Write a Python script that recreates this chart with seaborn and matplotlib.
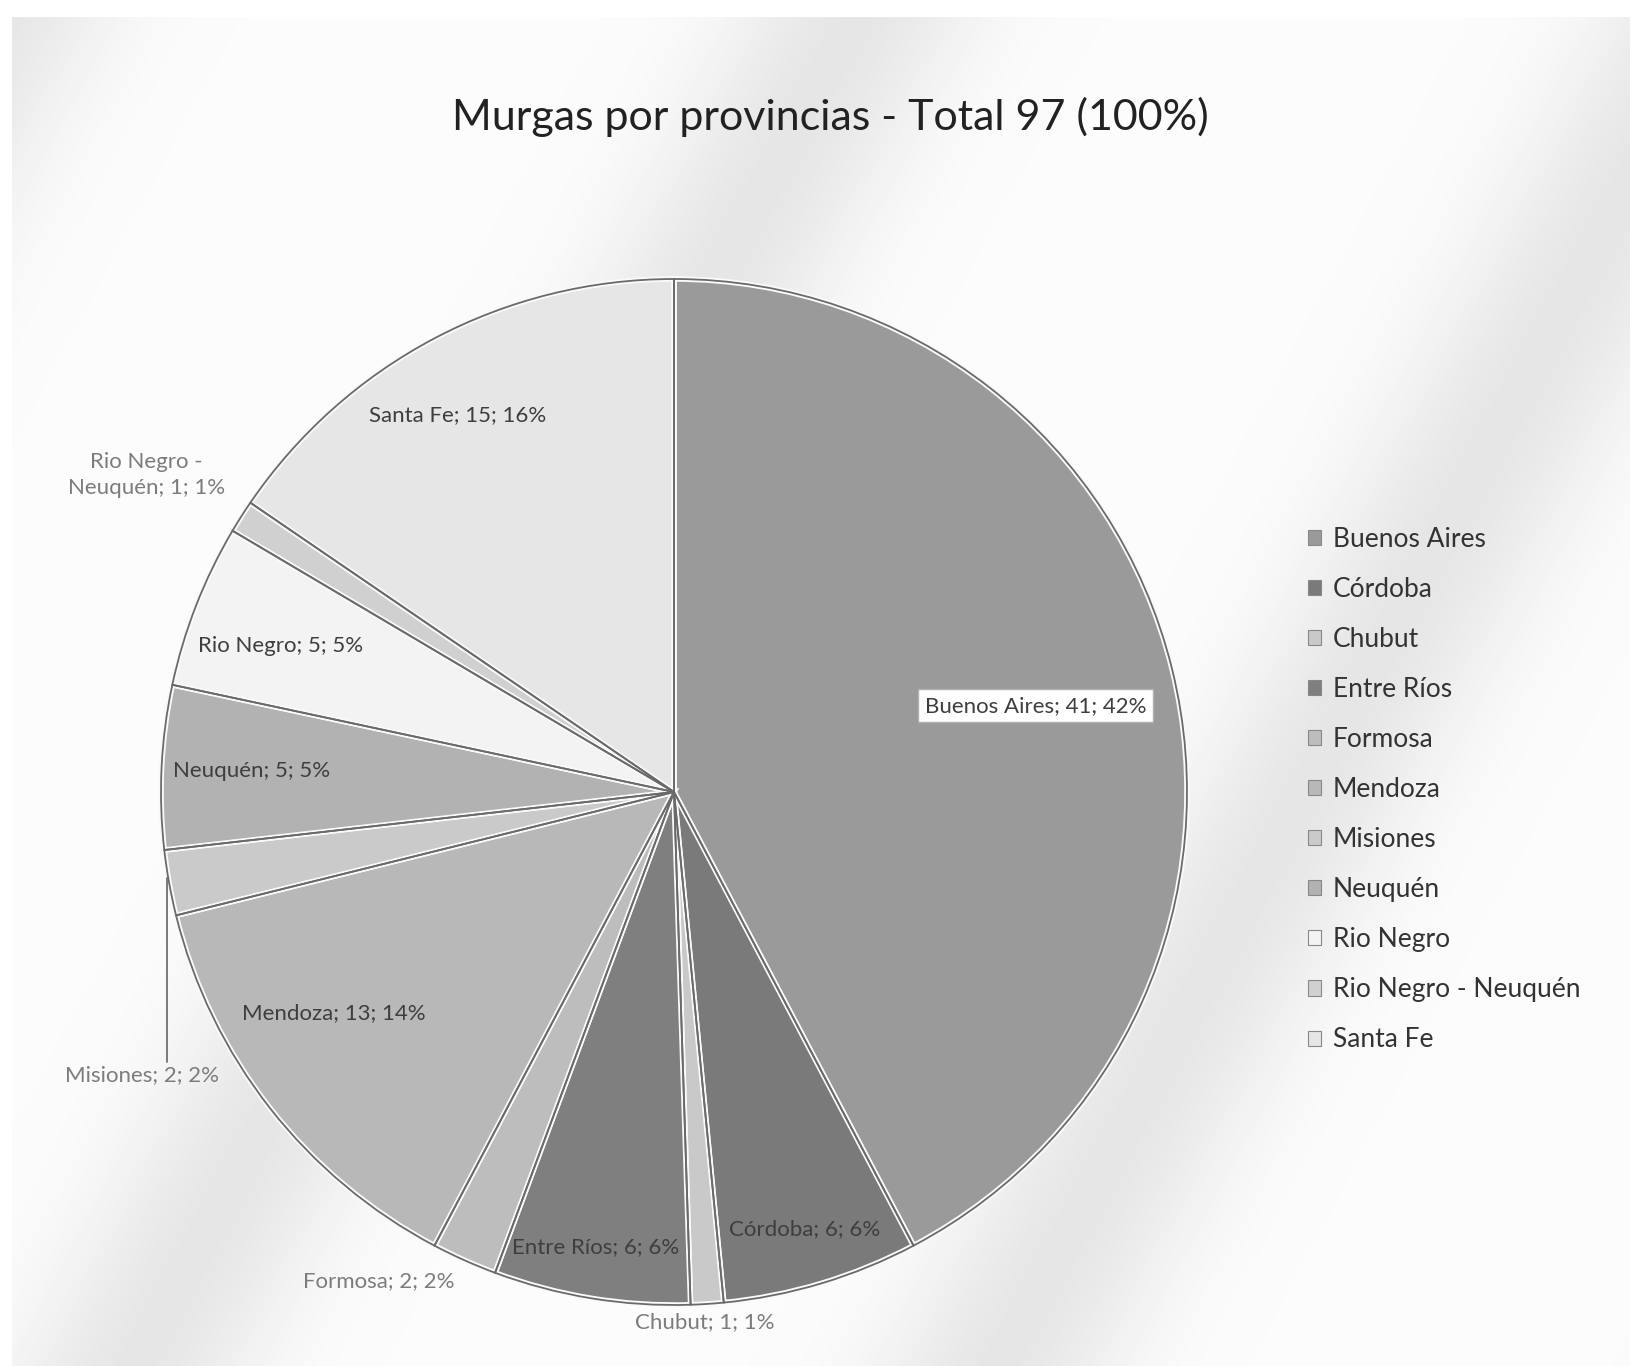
import numpy as np
import matplotlib
matplotlib.use("Agg")
import matplotlib.pyplot as plt
import seaborn as sns

# datos
provincias = ["Buenos Aires", "Córdoba", "Chubut", "Entre Ríos", "Formosa",
              "Mendoza", "Misiones", "Neuquén", "Rio Negro",
              "Rio Negro - Neuquén", "Santa Fe"]
murgas = [41, 6, 1, 6, 2, 13, 2, 5, 5, 1, 15]
porcentajes = [42, 6, 1, 6, 2, 14, 2, 5, 5, 1, 16]
etiquetas = ["Buenos Aires; 41; 42%", "Córdoba; 6; 6%", "Chubut; 1; 1%",
             "Entre Ríos; 6; 6%", "Formosa; 2; 2%", "Mendoza; 13; 14%",
             "Misiones; 2; 2%", "Neuquén; 5; 5%", "Rio Negro; 5; 5%",
             "Rio Negro -\nNeuquén; 1; 1%", "Santa Fe; 15; 16%"]
grises = ["#9a9a9a", "#7a7a7a", "#c9c9c9", "#7f7f7f", "#bdbdbd",
          "#b8b8b8", "#cacaca", "#b2b2b2", "#f3f3f3", "#d0d0d0", "#e6e6e6"]

sns.set_style("white")
plt.rcParams['font.family'] = ['Lato', 'DejaVu Sans']

fig = plt.figure(figsize=(16.3, 13.66), dpi=100)
W, H = 1630, 1366

# fondo con franjas diagonales suaves
bg = fig.add_axes([0, 0, 1, 1], zorder=-10)
yy, xx = np.mgrid[0:H, 0:W]
u = xx * 0.88 + yy * 0.47
band = 0.5 + 0.5 * np.cos(2 * np.pi * u / 760.0)
img = 0.985 - 0.085 * band ** 5
img[:17, :] = 1.0
img[:, :12] = 1.0
bg.imshow(img, cmap="gray", vmin=0, vmax=1, aspect="auto", interpolation="bilinear")
bg.axis("off")

# pastel
cx, cy, R = 674, 792, 513
ax = fig.add_axes([(cx - R) / W, (H - cy - R) / H, 2 * R / W, 2 * R / H])
wedges, _ = ax.pie(murgas, colors=grises, startangle=90, counterclock=False,
                   wedgeprops=dict(edgecolor="#fafafa", linewidth=4))
ax.pie(murgas, colors=["none"] * len(murgas), startangle=90, counterclock=False,
       wedgeprops=dict(edgecolor="#6a6a6a", linewidth=1.3, facecolor="none"))
ax.set_xlim(-1, 1)
ax.set_ylim(-1, 1)
ax.axis("off")

# posición de etiquetas: (radio, desvío angular)
layout = [(0.725, -0.5), (0.889, 0), (1.035, -0.4), (0.90, -0.5), (1.114, -7),
          (0.791, -5), (1.175, 17.8), (0.824, 0), (0.818, 1), (1.20, 1.5),
          (0.846, 2)]
fuera = [False, False, True, False, True, False, True, False, False, True, False]

total = sum(murgas)
acum = np.cumsum([0] + murgas)
for i, w in enumerate(wedges):
    mid = 90 - 360 * (acum[i] + murgas[i] / 2) / total
    r, d = layout[i]
    ang = np.radians(mid + d)
    x, y = r * np.cos(ang), r * np.sin(ang)
    color = "#7c7c7c" if fuera[i] else "#3e3e3e"
    kw = {}
    if i == 0:
        kw["bbox"] = dict(boxstyle="square,pad=0.3", fc="white", ec="#b0b0b0", lw=1)
    ax.text(x, y, etiquetas[i], ha="center", va="center", fontsize=16,
            color=color, clip_on=False, linespacing=1.35, **kw)
    if i == 6:
        ang0 = np.radians(mid)
        x0, y0 = np.cos(ang0), np.sin(ang0)
        ax.plot([x0 - 0.005, x0 - 0.005], [y0 + 0.01, y + 0.025], color="#707070",
                lw=1.3, clip_on=False)

fig.text(830 / W, 1 - 117 / H, "Murgas por provincias - Total 97 (100%)",
         ha="center", va="center", fontsize=31, color="#222222")

handles = [plt.Rectangle((0, 0), 1, 1, fc=c, ec="#888888", lw=0.8) for c in grises]
fig.legend(handles, provincias, loc="upper left",
           bbox_to_anchor=(1284 / W, 1 - 503 / H), frameon=False,
           fontsize=19, handlelength=0.5, handleheight=0.5, handletextpad=0.45,
           labelspacing=0.95, labelcolor="#333333")

fig.savefig("out.png", dpi=100)
